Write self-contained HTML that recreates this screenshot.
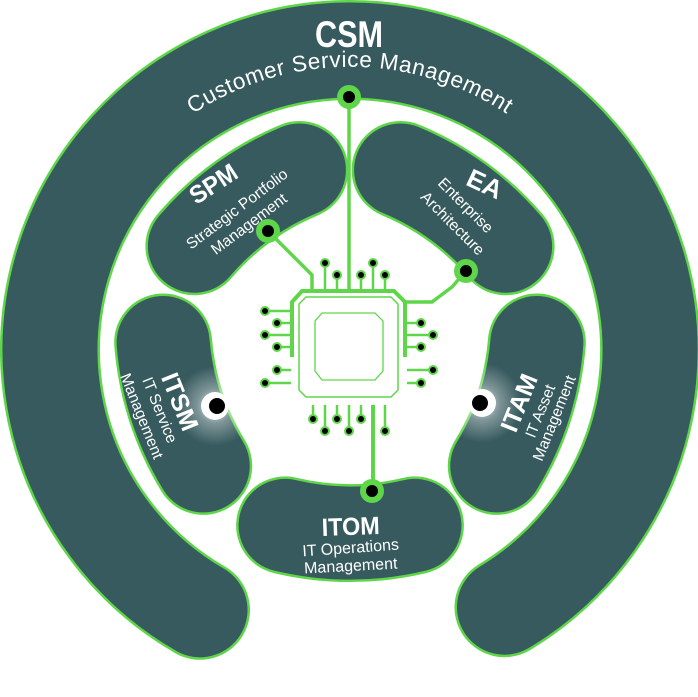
<!DOCTYPE html>
<html><head><meta charset="utf-8"><style>
html,body{margin:0;padding:0;background:#fff;}
svg{display:block;}
text{font-family:"Liberation Sans",sans-serif;fill:#fff;}
.b{font-weight:bold;}
</style></head><body>
<svg width="698" height="697" viewBox="0 0 698 697" xmlns="http://www.w3.org/2000/svg">
<defs>
<radialGradient id="glow">
<stop offset="0" stop-color="#fff" stop-opacity="0.85"/>
<stop offset="0.45" stop-color="#fff" stop-opacity="0.35"/>
<stop offset="1" stop-color="#fff" stop-opacity="0"/>
</radialGradient>
<path id="csmArc" d="M82,254.9 A285,285 0 0 1 618,254.9"/>
</defs>

<path d="M200,609.8 A300,300 0 1 1 504.5,607.2" fill="none" stroke="#5fd64a" stroke-width="100" stroke-linecap="round"/>
<path d="M200,609.8 A300,300 0 1 1 504.5,607.2" fill="none" stroke="#365a5e" stroke-width="95" stroke-linecap="round"/>

<g>
<g>
<path d="M285.1,525.4 A280,280 0 0 0 414.9,525.4" fill="none" stroke="#5fd64a" stroke-width="98" stroke-linecap="round"/>
<path d="M285.1,525.4 A280,280 0 0 0 414.9,525.4" fill="none" stroke="#365a5e" stroke-width="93" stroke-linecap="round"/>
</g>
<g transform="rotate(72 350 350)">
<path d="M285.1,525.4 A280,280 0 0 0 414.9,525.4" fill="none" stroke="#5fd64a" stroke-width="98" stroke-linecap="round"/>
<path d="M285.1,525.4 A280,280 0 0 0 414.9,525.4" fill="none" stroke="#365a5e" stroke-width="93" stroke-linecap="round"/>
</g>
<g transform="rotate(-72 350 350)">
<path d="M285.1,525.4 A280,280 0 0 0 414.9,525.4" fill="none" stroke="#5fd64a" stroke-width="98" stroke-linecap="round"/>
<path d="M285.1,525.4 A280,280 0 0 0 414.9,525.4" fill="none" stroke="#365a5e" stroke-width="93" stroke-linecap="round"/>
</g>
<g transform="rotate(144 350 350)">
<path d="M285.1,525.4 A280,280 0 0 0 414.9,525.4" fill="none" stroke="#5fd64a" stroke-width="98" stroke-linecap="round"/>
<path d="M285.1,525.4 A280,280 0 0 0 414.9,525.4" fill="none" stroke="#365a5e" stroke-width="93" stroke-linecap="round"/>
</g>
<g transform="rotate(-144 350 350)">
<path d="M285.1,525.4 A280,280 0 0 0 414.9,525.4" fill="none" stroke="#5fd64a" stroke-width="98" stroke-linecap="round"/>
<path d="M285.1,525.4 A280,280 0 0 0 414.9,525.4" fill="none" stroke="#365a5e" stroke-width="93" stroke-linecap="round"/>
</g>
</g>

<circle cx="215" cy="406" r="40" fill="url(#glow)"/>
<circle cx="482" cy="403" r="40" fill="url(#glow)"/>

<g stroke="#5fd64a" fill="none" stroke-linecap="butt">
<line x1="349" y1="97" x2="349" y2="291" stroke-width="3.5"/>
<polyline points="268,231 312,275 312,291" stroke-width="3.5"/>
<polyline points="466,271 452,287 432,302 406,302" stroke-width="3.5"/>
<line x1="373" y1="405" x2="373" y2="491" stroke-width="4"/>
<polyline points="292,357 292,302 302,291 394,291 405,302 405,357" stroke-width="4"/>
<polygon points="306,297 391,297 398,304 398,390 391,397 306,397 299,390 299,304" stroke-width="1.5"/>
<polygon points="322,313 375,313 383,321 383,371 375,380 322,380 315,371 315,321" stroke-width="1.3"/>
<g stroke-width="2.5">
<line x1="325" y1="263" x2="325" y2="291"/>
<line x1="337" y1="275" x2="337" y2="291"/>
<line x1="361" y1="275" x2="361" y2="291"/>
<line x1="373" y1="263" x2="373" y2="291"/>
<line x1="385" y1="275" x2="385" y2="291"/>
<line x1="265" y1="311" x2="292" y2="311"/>
<line x1="277" y1="323" x2="292" y2="323"/>
<line x1="265" y1="335" x2="292" y2="335"/>
<line x1="277" y1="347" x2="292" y2="347"/>
<line x1="277" y1="370" x2="291" y2="370"/>
<line x1="265" y1="383" x2="291" y2="383"/>
<line x1="406" y1="323" x2="421" y2="323"/>
<line x1="406" y1="335" x2="433" y2="335"/>
<line x1="406" y1="347" x2="421" y2="347"/>
<line x1="407" y1="370" x2="433" y2="370"/>
<line x1="407" y1="383" x2="421" y2="383"/>
<line x1="313" y1="405" x2="313" y2="419"/>
<line x1="325" y1="405" x2="325" y2="431"/>
<line x1="337" y1="405" x2="337" y2="419"/>
<line x1="349" y1="405" x2="349" y2="431"/>
<line x1="361" y1="405" x2="361" y2="419"/>
<line x1="385" y1="405" x2="385" y2="431"/>
</g>
</g>
<g fill="#000" stroke="#5fd64a" stroke-width="2">
<circle cx="325" cy="263" r="4"/><circle cx="337" cy="275" r="4"/><circle cx="361" cy="275" r="4"/><circle cx="373" cy="263" r="4"/><circle cx="385" cy="275" r="4"/>
<circle cx="265" cy="311" r="4"/><circle cx="277" cy="323" r="4"/><circle cx="265" cy="335" r="4"/><circle cx="277" cy="347" r="4"/><circle cx="277" cy="370" r="4"/><circle cx="265" cy="383" r="4"/>
<circle cx="421" cy="323" r="4"/><circle cx="433" cy="335" r="4"/><circle cx="421" cy="347" r="4"/><circle cx="433" cy="370" r="4"/><circle cx="421" cy="383" r="4"/>
<circle cx="313" cy="419" r="4"/><circle cx="325" cy="431" r="4"/><circle cx="337" cy="419" r="4"/><circle cx="349" cy="431" r="4"/><circle cx="361" cy="419" r="4"/><circle cx="385" cy="431" r="4"/>
</g>

<g>
<circle cx="349" cy="97" r="12" fill="#5fd64a"/><circle cx="349" cy="97" r="6" fill="#000"/>
<circle cx="268" cy="231" r="12" fill="#5fd64a"/><circle cx="268" cy="231" r="6" fill="#000"/>
<circle cx="466" cy="271" r="12" fill="#5fd64a"/><circle cx="466" cy="271" r="6" fill="#000"/>
<circle cx="372" cy="491" r="12" fill="#5fd64a"/><circle cx="372" cy="491" r="6" fill="#000"/>
<circle cx="215" cy="406" r="14" fill="#fff"/><circle cx="217" cy="406" r="8" fill="#000"/>
<circle cx="482" cy="403" r="14" fill="#fff"/><circle cx="480" cy="403" r="8" fill="#000"/>
</g>

<text class="b" x="349" y="47" font-size="37" text-anchor="middle" textLength="68" lengthAdjust="spacingAndGlyphs">CSM</text>
<text font-size="22.5"><textPath href="#csmArc" startOffset="50%" text-anchor="middle" letter-spacing="0.6">Customer Service Management</textPath></text>

<text class="b" font-size="25" text-anchor="middle" transform="translate(218,191) rotate(-33)" textLength="52" lengthAdjust="spacingAndGlyphs">SPM</text>
<text font-size="15.5" text-anchor="middle" transform="translate(240,213) rotate(-37)">Strategic Portfolio</text>
<text font-size="15.5" text-anchor="middle" transform="translate(252,228) rotate(-37)">Management</text>

<text class="b" font-size="26" text-anchor="middle" transform="translate(481,192) rotate(25)" textLength="36" lengthAdjust="spacingAndGlyphs">EA</text>
<text font-size="15.5" text-anchor="middle" transform="translate(462,209) rotate(45)">Enterprise</text>
<text font-size="15.5" text-anchor="middle" transform="translate(449,227) rotate(45)">Architecture</text>

<text class="b" font-size="25" text-anchor="middle" transform="translate(172,405) rotate(68)" textLength="60" lengthAdjust="spacingAndGlyphs">ITSM</text>
<text font-size="15.5" text-anchor="middle" transform="translate(155,412) rotate(68)">IT Service</text>
<text font-size="15.5" text-anchor="middle" transform="translate(137,418) rotate(68)">Management</text>

<text class="b" font-size="25" text-anchor="middle" transform="translate(527,406) rotate(-68)" textLength="60" lengthAdjust="spacingAndGlyphs">ITAM</text>
<text font-size="15.5" text-anchor="middle" transform="translate(545,413) rotate(-68)">IT Asset</text>
<text font-size="15.5" text-anchor="middle" transform="translate(559,420) rotate(-68)">Management</text>

<text class="b" font-size="25" text-anchor="middle" transform="translate(351,535) rotate(-2)" textLength="58" lengthAdjust="spacingAndGlyphs">ITOM</text>
<text font-size="16" text-anchor="middle" transform="translate(351,553) rotate(-4)">IT Operations</text>
<text font-size="16" text-anchor="middle" transform="translate(351,571) rotate(-3)">Management</text>
</svg>
</body></html>
